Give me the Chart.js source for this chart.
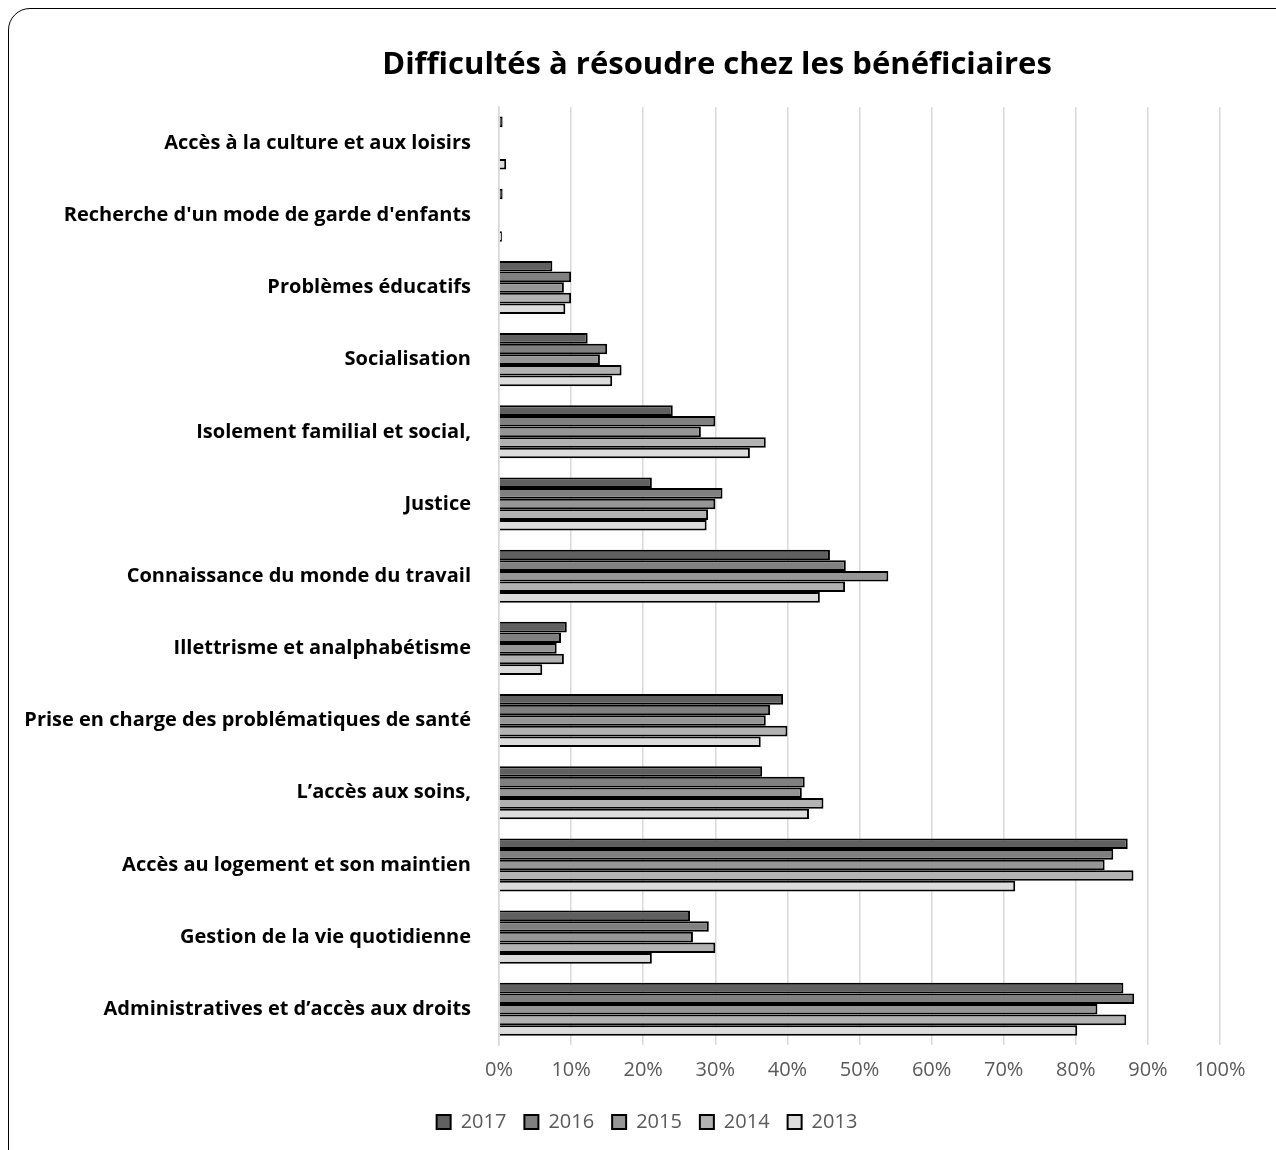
<!DOCTYPE html>
<html><head><meta charset="utf-8">
<script src="https://cdn.jsdelivr.net/npm/chart.js@4.4.1/dist/chart.umd.min.js"></script>
<style>
html,body{margin:0;padding:0;background:#fff;}
#wrap{position:relative;width:1276px;height:1150px;overflow:hidden;}
#frame{position:absolute;left:8px;top:8px;width:1290px;height:1170px;border:1.5px solid #000;border-radius:22px;box-sizing:border-box;}
canvas{position:absolute;left:0;top:0;}
</style></head>
<body><div id="wrap"><div id="frame"></div><canvas id="c" width="1276" height="1150"></canvas></div>
<script>
const titleText = "Difficultés à résoudre chez les bénéficiaires";
const categories = [
  "Accès à la culture et aux loisirs",
  "Recherche d'un mode de garde d'enfants",
  "Problèmes éducatifs",
  "Socialisation",
  "Isolement familial et social,",
  "Justice",
  "Connaissance du monde du travail",
  "Illettrisme et analphabétisme",
  "Prise en charge des problématiques de santé",
  "L’accès aux soins,",
  "Accès au logement et son maintien",
  "Gestion de la vie quotidienne",
  "Administratives et d’accès aux droits"
];
const years = ["2017","2016","2015","2014","2013"];
const v2017 = [0.5, 0.5, 7.4, 12.3, 24.1, 21.2, 45.9, 9.4, 39.4, 36.5, 87.2, 26.5, 86.6];
const v2016 = [0, 0, 10, 15, 30, 31, 48.1, 8.6, 37.6, 42.4, 85.2, 29.1, 88.1];
const v2015 = [0, 0, 9, 14, 28, 30, 54, 8, 37, 42, 84, 26.9, 83];
const v2014 = [0, 0, 10, 17, 37, 29, 48, 9, 40, 45, 88, 30, 87];
const v2013 = [1, 0.4, 9.2, 15.7, 34.8, 28.8, 44.5, 6, 36.3, 43, 71.6, 21.2, 80.2];
const xTicks = [0,10,20,30,40,50,60,70,80,90,100];
const colors = ["#606060","#808080","#969696","#b2b2b2","#dcdcdc"];
const series = [v2017, v2016, v2015, v2014, v2013];

const titlePlugin = {
  id: 'customTitle',
  afterLayout(chart){
    const l = chart.legend;
    if (l) { l.left += 37; l.right += 37; }
  },
  afterDraw(chart){
    const ctx = chart.ctx;
    ctx.save();
    ctx.font = 'bold 31px "Open Sans"';
    ctx.fillStyle = '#000';
    ctx.textAlign = 'center';
    ctx.textBaseline = 'middle';
    ctx.fillText(titleText, 717, 65);
    ctx.restore();
  }
};

new Chart(document.getElementById('c'), {
  type: 'bar',
  data: {
    labels: categories,
    datasets: years.map((y,i)=>({
      label: y,
      data: series[i],
      backgroundColor: colors[i],
      borderColor: '#000',
      borderWidth: 2,
      categoryPercentage: 0.735,
      barPercentage: 1.0
    }))
  },
  plugins: [titlePlugin],
  options: {
    indexAxis: 'y',
    responsive: false,
    animation: false,
    layout: { padding: { top: 107, right: 56, bottom: 8, left: 0 } },
    scales: {
      x: {
        min: 0, max: 100,
        afterBuildTicks(scale){ scale.ticks = xTicks.map(v=>({value:v})); },
        afterFit(scale){ scale.height = 48.6; },
        ticks: { callback: v => v + '%', color: '#595959', font: { family: 'Open Sans', size: 20 }, padding: 13 },
        grid: { color: '#d9d9d9', lineWidth: 1.5, drawTicks: false },
        border: { display: false }
      },
      y: {
        afterFit(scale){ scale.width = 499; },
        ticks: { color: '#000', font: { family: 'Open Sans', size: 20, weight: 'bold' }, padding: 28 },
        grid: { display: false, drawTicks: false },
        border: { display: true, color: '#d9d9d9', width: 1.5 }
      }
    },
    plugins: {
      title: { display: false },
      tooltip: { enabled: false },
      legend: {
        position: 'bottom',
        labels: { boxWidth: 14, boxHeight: 14, color: '#595959', font: { family: 'Open Sans', size: 20 }, padding: 18 }
      }
    }
  }
});
</script></body></html>
